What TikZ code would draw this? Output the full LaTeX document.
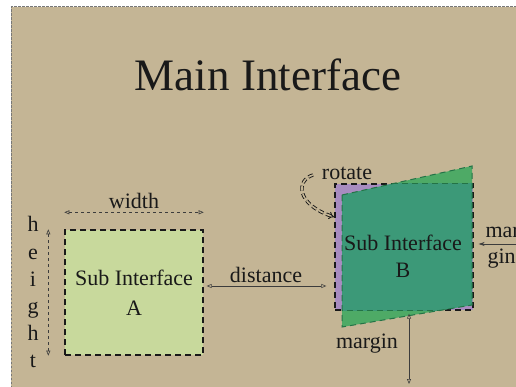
\documentclass[tikz,border=0pt]{standalone}
\usepackage{fontspec}
\setmainfont{Liberation Serif}
\usetikzlibrary{arrows.meta,calc}
\definecolor{tanbg}{RGB}{196,181,149}
\definecolor{framegray}{RGB}{120,120,120}
\definecolor{agreen}{RGB}{200,217,156}
\definecolor{bpurple}{RGB}{168,140,192}
\definecolor{qgreen}{RGB}{78,170,102}
\definecolor{qteal}{RGB}{60,153,120}
\definecolor{qedge}{RGB}{35,115,70}
\definecolor{ink}{RGB}{25,25,25}
\tikzset{
  body/.style={font=\fontsize{22}{30}\selectfont, text=ink},
  subbox/.style={draw=ink, line width=1.4pt, dash pattern=on 6pt off 4pt, inner sep=0pt},
  opentips/.style={{Triangle[open,length=5pt,width=4pt]}-{Triangle[open,length=5pt,width=4pt]}},
  measure/.style={draw=ink!85, line width=0.6pt},
}
\begin{document}
\begin{tikzpicture}[x=1pt,y=-1pt]
\useasboundingbox (0,0) rectangle (516,387);
\fill[white] (0,0) rectangle (516,387);
\fill[tanbg] (11,7) rectangle (540,400);
\draw[framegray, line width=1pt, dash pattern=on 2.5pt off 1.5pt] (11,400) -- (11,7) -- (540,7);

\node[font=\fontsize{45}{45}\selectfont, text=ink] (title) at (268,75) {Main Interface};

% Box A
\node[subbox, fill=agreen, minimum width=138pt, minimum height=125pt, body, align=center] (A) at (134,292.5) {Sub Interface\\A};

% width
\draw[measure, dashed, opentips] ([yshift=17pt]A.north west) -- ([yshift=17pt]A.north east);
\node[body] (wl) at (134,201) {width};
% height
\draw[measure, dashed, opentips] ([xshift=-16pt]A.north west) -- ([xshift=-16pt]A.south west);
\foreach \ch [count=\i] in {h,e,i,g,h,t}{
  \node[body, anchor=base] (h\i) at (33,{232+27*(\i-1)}) {\ch};
}

% Box B
\node[subbox, fill=bpurple, minimum width=138pt, minimum height=126pt] (B) at (404,247) {};
\coordinate (q1) at (342,195);
\coordinate (q2) at (472,166);
\coordinate (q3) at (472,305);
\coordinate (q4) at (342,327);
\fill[qgreen] (q1) -- (q2) -- (q3) -- (q4) -- cycle;
\begin{scope}
  \clip (B.north west) rectangle (B.south east);
  \fill[qteal] (q1) -- (q2) -- (q3) -- (q4) -- cycle;
\end{scope}
\begin{scope}
  \clip (q1) -- (q2) -- (q3) -- (q4) -- cycle;
  \draw[qedge, line width=1.4pt, dash pattern=on 6pt off 4pt] (B.north west) rectangle (B.south east);
\end{scope}
\draw[qedge, line width=1pt, dash pattern=on 6pt off 4pt] (q1) -- (q2) -- (q3) -- (q4) -- cycle;
\node[body, align=center, font=\fontsize{22}{27}\selectfont] (Bt) at (403,256.5) {Sub Interface\\B};

% distance
\draw[measure, opentips] ([xshift=3pt,yshift=6.5pt]A.east) -- ([xshift=-8pt,yshift=-39pt]B.west);
\node[body] (dl) at (266,275) {distance};

% rotate
\node[body] (rl) at (347,173) {rotate};
\coordinate (r0) at (313,175);
\coordinate (r1) at (334,217);
\draw[ink, line width=0.9pt, double=tanbg, double distance=1.6pt, dash pattern=on 5pt off 3pt, -{Implies}] (r0) .. controls (296,180) and (296,204) .. (r1);

% margin right
\coordinate (mR) at (540,244);
\draw[measure, -{Stealth[length=6pt,width=4pt]}] (mR) -- ([xshift=5pt,yshift=3pt]B.east);
\node[body, anchor=west] (m1) at (482,232) {mar};
\node[body, anchor=west] (m2) at (484,259) {gin};

% margin bottom
\coordinate (mb) at (409,384);
\draw[measure, opentips] ([xshift=5pt,yshift=-3pt]B.south) -- (mb);
\node[body] (ml) at (367,344) {margin};
\end{tikzpicture}
\end{document}
